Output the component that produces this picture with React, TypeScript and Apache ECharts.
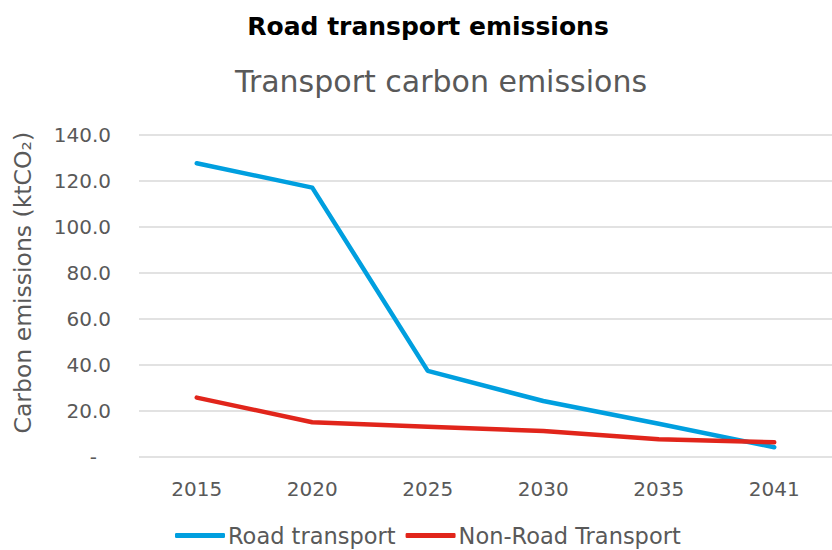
import React, { useEffect, useRef } from "react";
import * as echarts from "echarts";

const years = ["2015", "2020", "2025", "2030", "2035", "2041"];
const roadTransport = [127.6, 117.0, 37.3, 24.2, 14.3, 4.1];
const nonRoadTransport = [25.7, 15.0, 13.0, 11.2, 7.6, 6.3];
const seriesNames = ["Road transport", "Non-Road Transport"];

const FONT = "DejaVu Sans";

export default function App() {
  const ref = useRef<HTMLDivElement>(null);
  useEffect(() => {
    if (!ref.current) return;
    const chart = echarts.init(ref.current, undefined, { renderer: "svg" });
    chart.setOption({
      animation: false,
      backgroundColor: "#ffffff",
      textStyle: { fontFamily: FONT },
      title: [
        {
          text: "Road transport emissions",
          left: 423,
          textAlign: "center",
          top: 9,
          textStyle: { fontFamily: FONT, fontWeight: "bold", fontSize: 25, color: "#000000" },
        },
        {
          text: "Transport carbon emissions",
          left: 436,
          textAlign: "center",
          top: 61,
          textStyle: { fontFamily: FONT, fontWeight: "normal", fontSize: 30, color: "#595959" },
        },
      ],
      legend: {
        bottom: -2,
        left: 170,
        icon: "roundRect",
        itemWidth: 50,
        itemHeight: 5,
        itemGap: 10,
        textStyle: { fontFamily: FONT, fontSize: 22.5, color: "#595959", padding: [0, 0, 0, -2] },
        data: seriesNames,
      },
      grid: { left: 139, right: -13, top: 134.7, bottom: 93.3, containLabel: false },
      xAxis: {
        type: "category",
        data: years,
        boundaryGap: true,
        axisLine: { show: false },
        axisTick: { show: false },
        axisLabel: { fontFamily: FONT, fontSize: 20, color: "#595959", margin: 22 },
      },
      yAxis: {
        type: "value",
        min: 0,
        max: 140,
        interval: 20,
        name: "Carbon emissions (ktCO₂)",
        nameLocation: "middle",
        nameGap: 104,
        nameTextStyle: { fontFamily: FONT, fontSize: 23.5, color: "#595959", padding: [0, 0, 0, 26] },
        axisLine: { show: false },
        axisTick: { show: false },
        splitLine: { lineStyle: { color: "#d9d9d9", width: 1.5 } },
        axisLabel: {
          fontFamily: FONT,
          fontSize: 20,
          color: "#595959",
          margin: 28,
          formatter: (v: number) => (v === 0 ? "{d|-}" : v.toFixed(1)),
          rich: { d: { fontFamily: FONT, fontSize: 20, color: "#595959", padding: [0, 14, 0, 0] } },
        },
      },
      series: [
        {
          name: seriesNames[0],
          type: "line",
          data: roadTransport,
          symbol: "none",
          lineStyle: { color: "#009fdf", width: 4.5, cap: "round", join: "round" },
          itemStyle: { color: "#009fdf" },
        },
        {
          name: seriesNames[1],
          type: "line",
          data: nonRoadTransport,
          symbol: "none",
          lineStyle: { color: "#e1251b", width: 4.5, cap: "round", join: "round" },
          itemStyle: { color: "#e1251b" },
        },
      ],
    });
    return () => chart.dispose();
  }, []);
  return <div ref={ref} style={{ position: "fixed", left: 0, top: 0, width: 832, height: 550 }} />;
}
